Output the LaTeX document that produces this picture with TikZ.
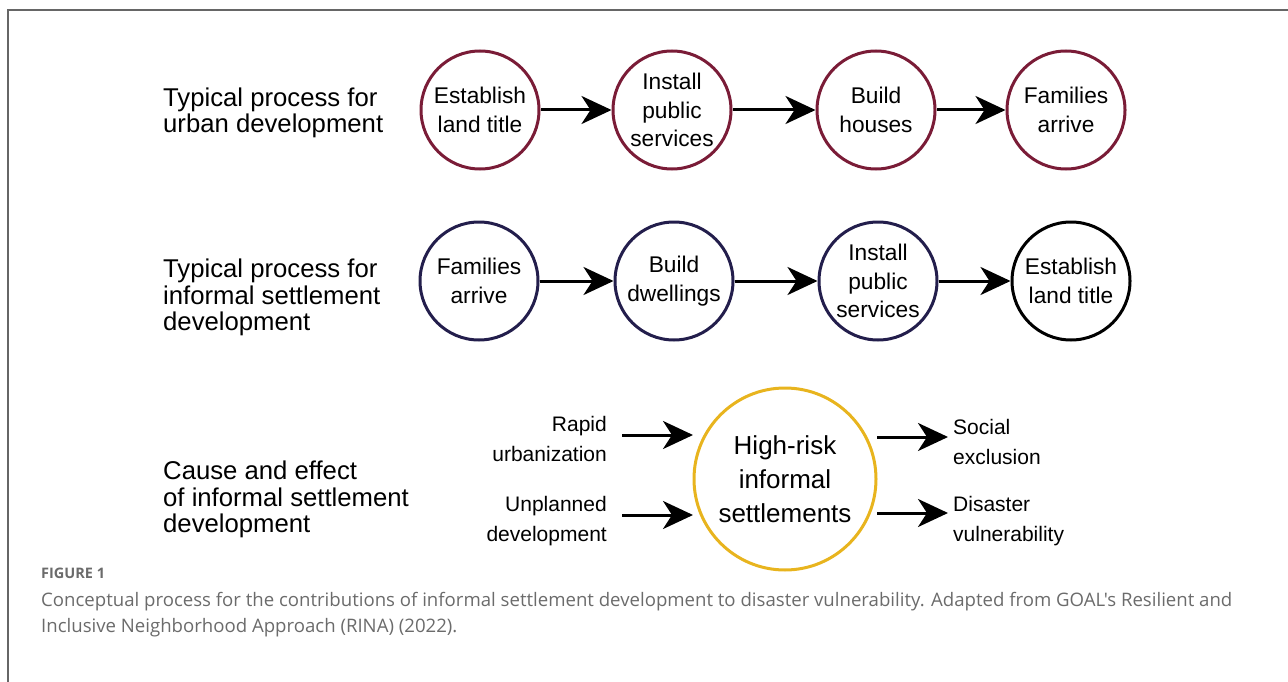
\documentclass[tikz,border=0pt]{standalone}
\usepackage{fontspec}
\setmainfont{Liberation Sans}
\newfontfamily\capfont{Open Sans}
\usetikzlibrary{arrows.meta}
\definecolor{urbanred}{HTML}{7A1C37}
\definecolor{infnavy}{HTML}{231E4C}
\definecolor{riskgold}{HTML}{E8B41E}
\definecolor{framegray}{HTML}{666666}
\definecolor{capgray}{HTML}{6B6B6B}

\begin{document}
\begin{tikzpicture}[x=1pt,y=-1pt,
  rowlabel/.style={anchor=west, align=left, inner sep=0pt, font=\fontsize{25.7}{26.5}\selectfont},
  stage/.style={circle, draw, line width=3pt, minimum size=118pt, inner sep=0pt,
                align=center, font=\fontsize{22.7}{28.5}\selectfont},
  hub/.style={circle, draw=riskgold, line width=3pt, minimum size=182pt, inner sep=0pt,
              align=center, font=\fontsize{26}{34}\selectfont},
  sidetext/.style={inner sep=0pt, font=\fontsize{21}{30}\selectfont},
  flow/.style={-{Stealth[length=30pt,width=28pt,inset=9pt]}, line width=3pt},
]
\useasboundingbox (0,0) rectangle (1288,682);

% open frame: top and left rules
\draw[framegray, line width=1.5pt] (8,682) -- (8,10) -- (1288,10);

% row labels
\node[rowlabel] (lab1) at (163,113) {Typical process for\\urban development};
\node[rowlabel] (lab2) at (163,297.5) {Typical process for\\informal settlement\\development};
\node[rowlabel] (lab3) at (163,499.5) {Cause and effect\\of informal settlement\\development};

% formal development sequence
\node[stage, draw=urbanred] (u1) at (480,110) {Establish\\land title};
\node[stage, draw=urbanred] (u2) at (672,110) {Install\\public\\services};
\node[stage, draw=urbanred] (u3) at (876,110) {Build\\houses};
\node[stage, draw=urbanred] (u4) at (1066,110) {Families\\arrive};
\draw[flow] (u1) -- (u2);
\draw[flow] (u2) -- (u3);
\draw[flow] (u3) -- (u4);

% informal development sequence
\node[stage, draw=infnavy] (i1) at (479,281) {Families\\arrive};
\node[stage, draw=infnavy] (i2) at (674,281) {Build\\dwellings};
\node[stage, draw=infnavy] (i3) at (878,281) {Install\\public\\services};
\node[stage, draw=black] (i4) at (1071,281) {Establish\\land title};
\draw[flow] (i1) -- (i2);
\draw[flow] (i2) -- (i3);
\draw[flow] (i3) -- (i4);

% causes and effects
\node[hub] (risk) at (785,479) {High-risk\\informal\\settlements};
\node[sidetext, anchor=east, align=right] (rapid) at (607,439) {Rapid\\urbanization};
\node[sidetext, anchor=east, align=right] (unpl) at (607,521) {Unplanned\\development};
\node[sidetext, anchor=west, align=left] (social) at (953,442) {Social\\exclusion};
\node[sidetext, anchor=west, align=left] (dis) at (953,521) {Disaster\\vulnerability};

\coordinate (c1a) at (622,435);
\coordinate (c1b) at (693,435);
\coordinate (c2a) at (622,515);
\coordinate (c2b) at (693,515);
\coordinate (e1a) at (877,437);
\coordinate (e1b) at (948,437);
\coordinate (e2a) at (877,513);
\coordinate (e2b) at (948,513);
\draw[flow] (c1a) -- (c1b);
\draw[flow] (c2a) -- (c2b);
\draw[flow] (e1a) -- (e1b);
\draw[flow] (e2a) -- (e2b);

% caption
\node[anchor=base west, inner sep=0pt, text=capgray, font=\capfont\bfseries\fontsize{14.5}{16}\selectfont]
  (fig) at (41,578) {FIGURE 1};
\node[anchor=west, align=left, inner sep=0pt, text=capgray, font=\capfont\fontsize{18.6}{26}\selectfont]
  (cap) at (41,614.5) {Conceptual process for the contributions of informal settlement development to disaster vulnerability. Adapted from GOAL's Resilient and\\Inclusive Neighborhood Approach (RINA) (2022).};
\end{tikzpicture}
\end{document}
